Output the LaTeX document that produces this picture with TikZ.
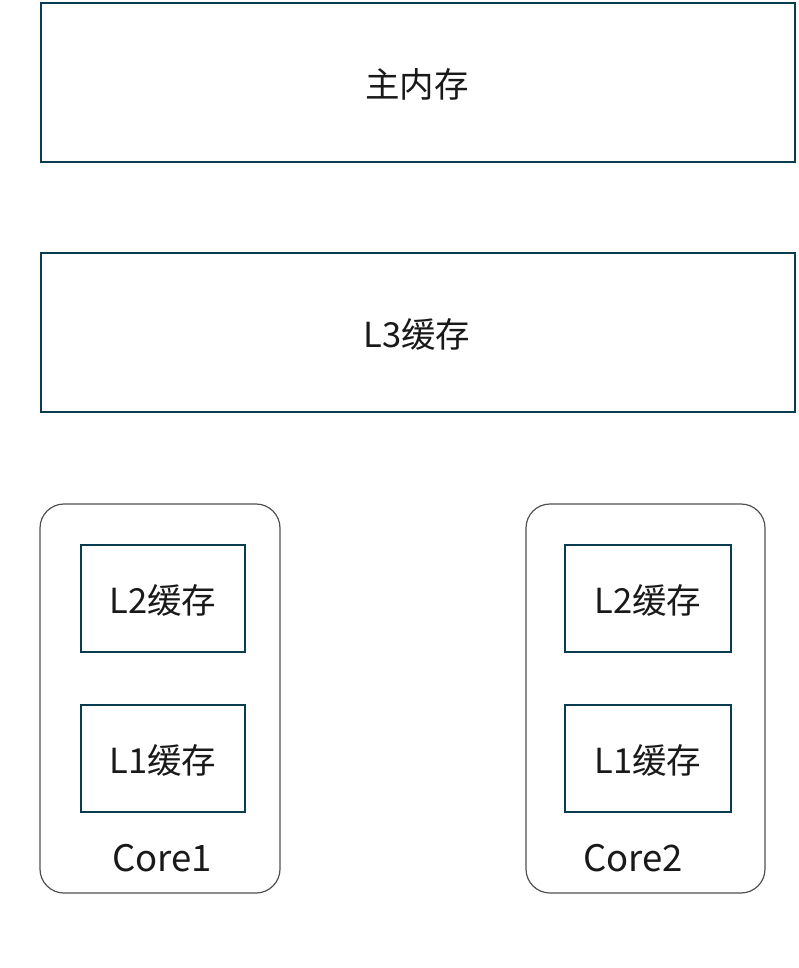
\documentclass[tikz,border=0pt]{standalone}
\usepackage{fontspec}
\setmainfont{Noto Sans CJK SC}
\definecolor{boxc}{HTML}{0B3D52}
\definecolor{corec}{HTML}{505050}
\begin{document}
\begin{tikzpicture}[x=1pt,y=-1pt,
  sq/.style={draw=boxc,line width=1.5pt},
  core/.style={draw=corec,line width=1.2pt,rounded corners=24pt},
  lbl/.style={font=\fontsize{34.5}{38}\selectfont,text=black!90},
  clbl/.style={font=\fontsize{36.5}{40}\selectfont,text=black!90}]
\useasboundingbox (0,0) rectangle (798,968);
\draw[sq] (41,3) rectangle (795,162);
\node[lbl] (main) at (417,84) {主内存};
\draw[sq] (41,253) rectangle (795,412);
\node[lbl] (l3) at (417,334) {L3缓存};
% Core1
\draw[core] (40,504) rectangle (280,893);
\draw[sq] (81,545) rectangle (245,652);
\node[lbl] (c1l2) at (163,600) {L2缓存};
\draw[sq] (81,705) rectangle (245,812);
\node[lbl] (c1l1) at (163,760) {L1缓存};
\node[clbl] (c1) at (162,858) {Core1};
% Core2
\draw[core] (526,504) rectangle (765,893);
\draw[sq] (565,545) rectangle (731,652);
\node[lbl] (c2l2) at (648,600) {L2缓存};
\draw[sq] (565,705) rectangle (731,812);
\node[lbl] (c2l1) at (648,760) {L1缓存};
\node[clbl] (c2) at (633,858) {Core2};
\end{tikzpicture}
\end{document}
